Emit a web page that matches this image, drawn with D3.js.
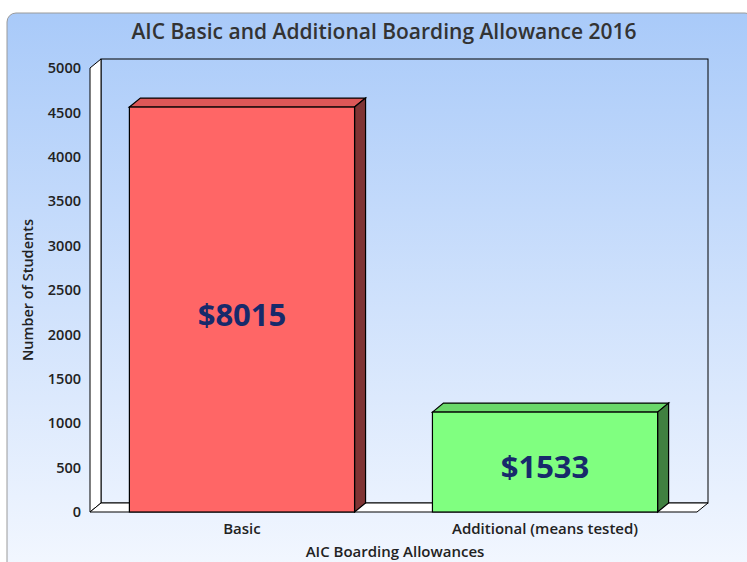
<!DOCTYPE html>
<html>
<head>
<meta charset="utf-8">
<script src="https://cdn.jsdelivr.net/npm/d3@7"></script>
<style>
  body { margin: 0; background: #fff; }
  text { font-family: "Open Sans", "Noto Sans", sans-serif; }
</style>
</head>
<body>
<svg width="747" height="562"></svg>
<script>
const categories = ["Basic", "Additional (means tested)"];
const students = [4560, 1125];
const amountLabels = ["$8015", "$1533"];
const yTicks = [0, 500, 1000, 1500, 2000, 2500, 3000, 3500, 4000, 4500, 5000];

const svg = d3.select('svg');
const WIDTH = +svg.attr('width');
const HEIGHT = +svg.attr('height');

const colors = [
    {front: '#ff6666', top: '#dd5757', side: '#7f3434'},
    {front: '#80ff80', top: '#6ad86a', side: '#408040'}
];

// background panel
const defs = svg.append('defs');
const grad = defs.append('linearGradient')
    .attr('id', 'bg').attr('x1', 0).attr('y1', 0).attr('x2', 0).attr('y2', 1);
grad.append('stop').attr('offset', '0%').attr('stop-color', '#a9caf9');
grad.append('stop').attr('offset', '100%').attr('stop-color', '#f6f9ff');

svg.append('rect')
    .attr('x', 7).attr('y', 13)
    .attr('width', WIDTH).attr('height', HEIGHT + 20)
    .attr('rx', 9)
    .style('fill', 'url(#bg)')
    .style('stroke', '#9a9a9a')
    .style('stroke-width', 1);

const plot = {left: 90, right: 697, top: 68, bottom: 512};
const depth = {dx: 11, dy: -9};

const xScale = d3.scaleBand()
    .domain(categories)
    .range([plot.left, plot.right])
    .paddingInner(0.257)
    .paddingOuter(0.13);

const yScale = d3.scaleLinear()
    .domain([0, 5000])
    .range([plot.bottom, plot.top]);

const g = svg.append('g');

// back wall outline
g.append('rect')
    .attr('x', plot.left + depth.dx)
    .attr('y', yScale(5000) + depth.dy)
    .attr('width', plot.right - plot.left)
    .attr('height', plot.bottom - plot.top)
    .style('fill', 'none')
    .style('stroke', 'black')
    .style('stroke-width', 1);

// left wall
const y0 = yScale(0), yTop = yScale(5000);
g.append('path')
    .attr('d', `M${plot.left},${y0} L${plot.left},${yTop} L${plot.left + depth.dx},${yTop + depth.dy} L${plot.left + depth.dx},${y0 + depth.dy} Z`)
    .style('fill', 'white')
    .style('stroke', 'black')
    .style('stroke-width', 1);

// floor
g.append('path')
    .attr('d', `M${plot.left},${y0} L${plot.left + depth.dx},${y0 + depth.dy} L${plot.right + depth.dx},${y0 + depth.dy} L${plot.right},${y0} Z`)
    .style('fill', 'white')
    .style('stroke', 'black')
    .style('stroke-width', 1);

// bars
const bars = g.selectAll('.bar')
    .data(categories.map((c, i) => ({name: c, value: students[i], label: amountLabels[i], col: colors[i]})))
    .enter().append('g')
    .attr('class', 'bar');

bars.append('path')
    .attr('d', d => {
        const x0 = xScale(d.name), x1 = x0 + xScale.bandwidth(), yv = yScale(d.value);
        return `M${x0},${yv} L${x0 + depth.dx},${yv + depth.dy} L${x1 + depth.dx},${yv + depth.dy} L${x1},${yv} Z`;
    })
    .style('fill', d => d.col.top)
    .style('stroke', 'black')
    .style('stroke-width', 1.2);

bars.append('path')
    .attr('d', d => {
        const x1 = xScale(d.name) + xScale.bandwidth(), yv = yScale(d.value);
        return `M${x1},${yv} L${x1 + depth.dx},${yv + depth.dy} L${x1 + depth.dx},${y0 + depth.dy} L${x1},${y0} Z`;
    })
    .style('fill', d => d.col.side)
    .style('stroke', 'black')
    .style('stroke-width', 1.2);

bars.append('rect')
    .attr('x', d => xScale(d.name))
    .attr('y', d => yScale(d.value))
    .attr('width', xScale.bandwidth())
    .attr('height', d => y0 - yScale(d.value))
    .style('fill', d => d.col.front)
    .style('stroke', 'black')
    .style('stroke-width', 1.2);

bars.append('text')
    .attr('x', d => xScale(d.name) + xScale.bandwidth() / 2)
    .attr('y', d => (yScale(d.value) + y0) / 2 + 16)
    .style('text-anchor', 'middle')
    .style('font-size', '31px')
    .style('font-weight', 'bold')
    .style('fill', '#172a6b')
    .text(d => d.label);

// y axis labels
const yAxis = d3.axisLeft(yScale).tickValues(yTicks).tickSize(0).tickPadding(9).tickFormat(d3.format('d'));
const yG = svg.append('g')
    .attr('transform', `translate(${plot.left},0)`)
    .call(yAxis);
yG.select('.domain').remove();
yG.selectAll('text')
    .style('font-size', '14.5px')
    .style('font-weight', '600')
    .style('fill', '#222')
    .style('font-family', '"Open Sans", sans-serif');

// x axis labels
const xAxis = d3.axisBottom(xScale).tickSize(0).tickPadding(11);
const xG = svg.append('g')
    .attr('transform', `translate(0,${y0})`)
    .call(xAxis);
xG.select('.domain').remove();
xG.selectAll('text')
    .style('font-size', '15px')
    .style('font-weight', '600')
    .style('fill', '#222')
    .style('font-family', '"Open Sans", sans-serif');

// titles
svg.append('text')
    .attr('x', 384).attr('y', 39)
    .style('text-anchor', 'middle')
    .style('font-size', '21px')
    .style('font-weight', '600')
    .style('fill', '#333')
    .text('AIC Basic and Additional Boarding Allowance 2016');

svg.append('text')
    .attr('x', 395).attr('y', 557)
    .style('text-anchor', 'middle')
    .style('font-size', '15px')
    .style('font-weight', '600')
    .style('fill', '#222')
    .text('AIC Boarding Allowances');

svg.append('text')
    .attr('transform', 'translate(33,290) rotate(-90)')
    .style('text-anchor', 'middle')
    .style('font-size', '14.5px')
    .style('font-weight', '600')
    .style('fill', '#222')
    .text('Number of Students');
</script>
</body>
</html>
